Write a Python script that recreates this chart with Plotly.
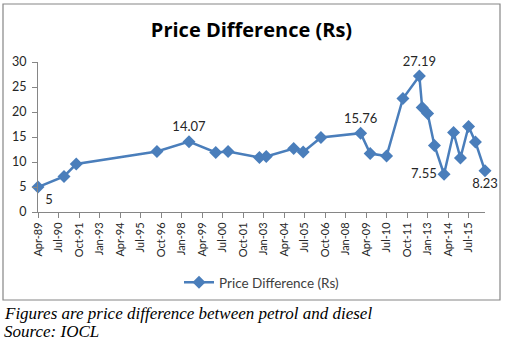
import plotly.graph_objects as go
import pandas as pd

dates = ["1989-04-01", "1990-11-01", "1991-08-01", "1996-07-01", "1998-06-15",
         "2000-02-01", "2000-11-01", "2002-10-01", "2003-03-01", "2004-11-01",
         "2005-06-01", "2006-07-01", "2008-12-01", "2009-07-01", "2010-07-01",
         "2011-07-01", "2012-07-01", "2012-09-01", "2013-01-01", "2013-06-01",
         "2014-01-01", "2014-08-01", "2015-01-01", "2015-07-01", "2015-12-01",
         "2016-07-01"]
values = [5.0, 7.1, 9.6, 12.1, 14.07, 11.9, 12.1, 10.9, 11.1, 12.7,
          12.0, 14.9, 15.76, 11.7, 11.2, 22.7, 27.19, 20.9, 19.7, 13.3,
          7.55, 15.9, 10.8, 17.1, 14.0, 8.23]
labels = ["5", "", "", "", "14.07", "", "", "", "", "", "", "", "15.76", "", "",
          "", "27.19", "", "", "", "7.55", "", "", "", "", "8.23"]
label_pos = ["bottom right", "top center", "top center", "top center", "top center",
             "top center", "top center", "top center", "top center", "top center",
             "top center", "top center", "top center", "top center", "top center",
             "top center", "top center", "top center", "top center", "top center",
             "middle left", "top center", "top center", "top center", "top center",
             "bottom center"]
tick_dates = list(pd.date_range("1989-04-01", periods=22, freq="15MS"))
tick_text = [d.strftime("%b-%y") for d in tick_dates]
series_name = "Price Difference (Rs)"
title_text = "Price Difference (Rs)"
foot1 = "Figures are price difference between petrol and diesel"
foot2 = "Source: IOCL"

blue = "#4A7EBB"
axis_col = "#868686"
sans = "Lato, Carlito, sans-serif"

fig = go.Figure()
fig.add_trace(go.Scatter(
    x=dates, y=values, name=series_name, mode="lines+markers+text",
    line=dict(color=blue, width=2.5),
    marker=dict(symbol="diamond", size=10, color=blue),
    text=labels, textposition=label_pos,
    textfont=dict(family=sans, size=13, color="#262626"),
    cliponaxis=False,
))

fig.update_layout(
    width=505, height=342,
    margin=dict(l=38, r=20, t=62, b=130),
    paper_bgcolor="white", plot_bgcolor="white",
    showlegend=True,
    legend=dict(orientation="h", x=0.5, xanchor="center", y=-0.47, yanchor="middle",
                font=dict(family=sans, size=13.5, color="#404040"),
                itemwidth=30),
    title=dict(text="<b>" + title_text + "</b>", x=251.5 / 505, xanchor="center",
               xref="container", y=1 - 30 / 342, yanchor="middle",
               font=dict(family="Open Sans, sans-serif", size=20, color="#000000")),
    xaxis=dict(type="date", range=["1989-04-01", "2016-07-01"],
               tickvals=tick_dates, ticktext=tick_text, tickangle=-90,
               showgrid=False, showline=True, linecolor=axis_col, linewidth=1,
               ticks="outside", ticklen=5, tickcolor=axis_col,
               tickfont=dict(family=sans, size=11, color="#262626"),
               zeroline=False),
    yaxis=dict(range=[0, 30], tickvals=[0, 5, 10, 15, 20, 25, 30],
               showgrid=False, showline=True, linecolor=axis_col, linewidth=1,
               ticks="outside", ticklen=5, tickcolor=axis_col, ticklabelstandoff=3,
               tickfont=dict(family=sans, size=12.5, color="#262626"),
               zeroline=False),
)

# chart border
fig.add_shape(type="rect", xref="paper", yref="paper",
              x0=(3 - 38) / 447, x1=(500 - 38) / 447,
              y0=(212 - 300) / 150, y1=(212 - 4) / 150,
              line=dict(color="#868686", width=1.2), layer="below")

for txt, yc in [(foot1, 313), (foot2, 331)]:
    fig.add_annotation(text="<i>" + txt + "</i>",
                       xref="paper", yref="paper", x=(2 - 38) / 447, y=(212 - yc) / 150,
                       xanchor="left", yanchor="middle", align="left", showarrow=False,
                       font=dict(family="Liberation Serif, serif", size=17, color="#000000"))

fig.write_html("out.html")
